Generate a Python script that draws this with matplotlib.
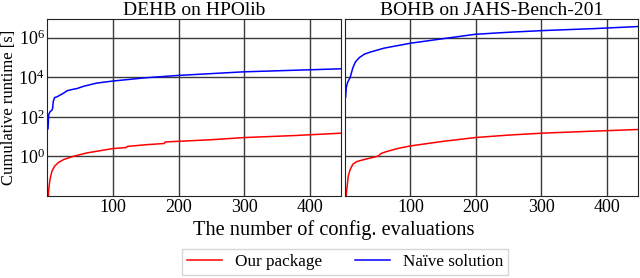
import numpy as np
import matplotlib
matplotlib.use("Agg")
from matplotlib import pyplot as plt

plt.rcParams["font.family"] = ["Liberation Serif", "DejaVu Serif"]
plt.rcParams["mathtext.fontset"] = "stix"

# DEHB on HPOlib
dehb_ours_x = [1, 2, 4, 7, 11, 17, 25, 39, 60, 100, 120, 122, 150, 178, 180, 250, 300, 380, 448]
dehb_ours_y = [0.004, 0.02, 0.07, 0.18, 0.32, 0.5, 0.7, 1.0, 1.5, 2.5, 2.8, 3.2, 3.9, 4.5, 5.4, 7.0, 9.0, 11.5, 15]
dehb_naive_x = [1, 1.3, 2, 4, 7, 8, 9, 11, 15, 19, 25, 30, 37, 45, 55, 75, 100, 150, 200, 300, 448]
dehb_naive_y = [25, 40, 130, 180, 220, 270, 600, 940, 1050, 1240, 1600, 2100, 2400, 2700, 3500, 5100, 6500, 9500, 12500, 19000, 27000]

# BOHB on JAHS-Bench-201
bohb_ours_x = [1, 2, 5, 8, 12, 18, 28, 40, 51, 55, 62, 80, 100, 150, 199, 250, 301, 380, 448]
bohb_ours_y = [0.003, 0.012, 0.1, 0.22, 0.4, 0.55, 0.68, 0.85, 1.05, 1.4, 1.7, 2.5, 3.4, 5.8, 9.0, 12, 15, 19, 23]
bohb_naive_x = [1, 2, 4, 8, 12, 16, 22, 30, 39, 60, 100, 150, 199, 250, 301, 380, 448]
bohb_naive_y = [1000, 3000, 5500, 10000, 30000, 60000, 100000, 150000, 190000, 300000, 530000, 900000, 1500000, 1900000, 2300000, 2900000, 3700000]

titles = ["DEHB on HPOlib", "BOHB on JAHS-Bench-201"]
xticks = [100, 200, 300, 400]
yticks = [1e0, 1e2, 1e4, 1e6]


def main():
    fig = plt.figure(figsize=(6.4, 2.78), dpi=100)
    ax1 = fig.add_axes([0.074, 0.295, 0.459, 0.637])
    ax2 = fig.add_axes([0.539, 0.295, 0.458, 0.637], sharey=ax1)

    data = [(dehb_ours_x, dehb_ours_y, dehb_naive_x, dehb_naive_y),
            (bohb_ours_x, bohb_ours_y, bohb_naive_x, bohb_naive_y)]

    for ax, title, (ox, oy, nx, ny) in zip([ax1, ax2], titles, data):
        l1, = ax.plot(ox, oy, color="red", lw=1.1, label="Our package")
        l2, = ax.plot(nx, ny, color="blue", lw=1.1, label="Naïve solution")
        ax.set_yscale("log")
        ax.set_xlim(0, 448)
        ax.set_ylim(1e-2, 9e6)
        ax.set_xticks(xticks)
        ax.set_yticks(yticks)
        ax.minorticks_off()
        ax.grid(True, color="#3a3a3a", lw=1.0)
        ax.tick_params(length=0, labelsize=13, pad=2)
        ax.set_title(title, fontsize=14, pad=2)
        for s in ax.spines.values():
            s.set_color("#222222")

    ax2.tick_params(labelleft=False)
    ax1.set_ylabel("Cumulative runtime [s]", fontsize=12, labelpad=1)
    fig.text(0.522, 0.172, "The number of config. evaluations", ha="center",
             va="center", fontsize=14.7)
    fig.legend([l1, l2], ["Our package", "Naïve solution"], loc="center",
               bbox_to_anchor=(0.539, 0.057), ncol=2, fontsize=12.3,
               handlelength=2.05, handletextpad=0.76, columnspacing=1.93,
               fancybox=False, edgecolor="#cccccc", borderpad=0.3)

    fig.savefig("out.png", dpi=100)


if __name__ == "__main__":
    main()
